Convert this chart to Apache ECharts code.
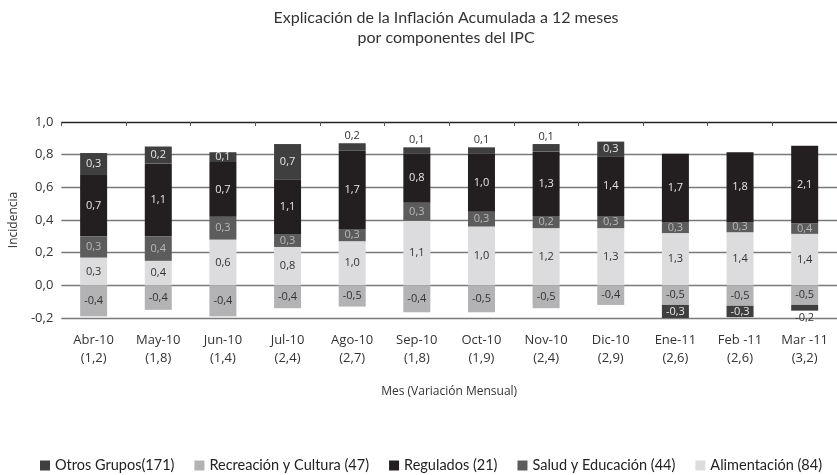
<!DOCTYPE html>
<html>
<head>
<meta charset="utf-8">
<script src="https://cdn.jsdelivr.net/npm/echarts@6/dist/echarts.min.js"></script>
<style>
  html, body { margin: 0; padding: 0; background: #fff; }
  #chart { width: 837px; height: 475px; }
</style>
</head>
<body>
<div id="chart"></div>
<script>
// categorias (mes) y variacion mensual
const months = ['Abr-10', 'May-10', 'Jun-10', 'Jul-10', 'Ago-10', 'Sep-10', 'Oct-10', 'Nov-10', 'Dic-10', 'Ene-11', 'Feb -11', 'Mar -11']
const totals = ['1,2', '1,8', '1,4', '2,4', '2,7', '1,8', '1,9', '2,4', '2,9', '2,6', '2,6', '3,2']

// altura de cada segmento (eje Incidencia)
const alimentacion = [0.17, 0.15, 0.28, 0.235, 0.27, 0.395, 0.36, 0.35, 0.35, 0.32, 0.325, 0.315]
const salud = [0.13, 0.15, 0.14, 0.08, 0.075, 0.11, 0.09, 0.075, 0.075, 0.065, 0.06, 0.065]
const regulados = [0.375, 0.445, 0.335, 0.335, 0.48, 0.30, 0.355, 0.395, 0.365, 0.42, 0.43, 0.475]
const otros = [0.135, 0.105, 0.06, 0.215, 0.045, 0.04, 0.04, 0.045, 0.09, -0.085, -0.07, -0.035]
const recreacion = [-0.19, -0.15, -0.19, -0.14, -0.13, -0.165, -0.165, -0.14, -0.12, -0.12, -0.125, -0.12]

// etiquetas que se muestran en cada segmento
const alimentacionLbl = [0.3, 0.4, 0.6, 0.8, 1.0, 1.1, 1.0, 1.2, 1.3, 1.3, 1.4, 1.4]
const saludLbl = [0.3, 0.4, 0.3, 0.3, 0.3, 0.3, 0.3, 0.2, 0.3, 0.3, 0.3, 0.4]
const reguladosLbl = [0.7, 1.1, 0.7, 1.1, 1.7, 0.8, 1.0, 1.3, 1.4, 1.7, 1.8, 2.1]
const otrosLbl = [0.3, 0.2, 0.1, 0.7, 0.2, 0.1, 0.1, 0.1, 0.3, -0.3, -0.3, -0.2]
const recreacionLbl = [-0.4, -0.4, -0.4, -0.4, -0.5, -0.4, -0.5, -0.5, -0.4, -0.5, -0.5, -0.5]

// posicion de la etiqueta de Otros Grupos
const otrosPos = ['inside', 'inside', 'inside', 'inside', 'top', 'top', 'top', 'top', 'inside', 'inside', 'inside', 'bottom']

const yTicks = [-0.2, 0, 0.2, 0.4, 0.6, 0.8, 1.0]

const fmt = v => v.toFixed(1).replace('.', ',')
const narrow = '"Liberation Sans Narrow", "Open Sans", sans-serif'
const sans = '"Open Sans", "Noto Sans", sans-serif'
const lato = 'Lato, "Open Sans", sans-serif'

const mChart = echarts.init(document.getElementById('chart'))

const mkSeries = (name, values, labels, color, textColor, positions) => ({
  name,
  type: 'bar',
  stack: 'Total',
  barWidth: 27,
  color,
  data: values.map((v, i) => ({
    value: v,
    label: { position: positions ? positions[i] : 'inside', distance: 2 }
  })),
  label: {
    show: true,
    color: textColor,
    fontSize: 11,
    fontFamily: sans,
    formatter: p => fmt(labels[p.dataIndex])
  }
})

const options = {
  animation: false,
  title: {
    text: 'Explicación de la Inflación Acumulada a 12 meses\npor componentes del IPC',
    left: 441,
    textAlign: 'center',
    top: 3,
    textStyle: {
      fontFamily: lato,
      fontWeight: 'normal',
      fontSize: 16,
      lineHeight: 20,
      color: '#333'
    }
  },
  legend: {
    data: ['Otros Grupos(171)', 'Recreación y Cultura (47)', 'Regulados (21)', 'Salud y Educación (44)', 'Alimentación (84)'],
    left: 40,
    top: 458,
    width: 797,
    padding: 0,
    itemWidth: 10,
    itemHeight: 10,
    itemGap: 20,
    icon: 'rect',
    textStyle: { fontFamily: lato, fontSize: 14.5, color: '#222' }
  },
  grid: {
    left: 58,
    right: -8,
    top: 122,
    bottom: 157
  },
  xAxis: [
    {
      type: 'category',
      data: months,
      position: 'bottom',
      axisLine: { show: false },
      axisTick: { show: false },
      axisLabel: {
        margin: 13,
        lineHeight: 18,
        fontSize: 13,
        fontFamily: narrow,
        color: '#333',
        formatter: (v, i) => v + '\n(' + totals[i] + ')'
      },
      name: 'Mes (Variación Mensual)',
      nameLocation: 'middle',
      nameGap: 68,
      nameTextStyle: { fontFamily: sans, fontSize: 12, color: '#333' }
    },
    {
      type: 'category',
      data: months,
      position: 'top',
      axisLine: { show: true, onZero: true, lineStyle: { color: '#222', width: 1 } },
      axisTick: { show: true, inside: true, length: 4, lineStyle: { color: '#555' } },
      axisLabel: { show: false }
    }
  ],
  yAxis: {
    type: 'value',
    min: -0.2,
    max: 1.0,
    interval: 0.2,
    name: 'Incidencia',
    nameLocation: 'middle',
    nameGap: 40,
    nameTextStyle: { fontFamily: sans, fontSize: 12, color: '#333' },
    axisLine: { show: false },
    axisTick: { show: false },
    axisLabel: {
      fontSize: 13,
      fontFamily: sans,
      color: '#333',
      margin: 8,
      formatter: v => fmt(v)
    },
    splitLine: {
      show: true,
      lineStyle: {
        width: 1.3,
        color: yTicks.map(t => (t === 1.0 ? '#333' : '#7a7a7a'))
      }
    }
  },
  series: [
    mkSeries('Alimentación (84)', alimentacion, alimentacionLbl, '#dcdcde', '#333'),
    mkSeries('Salud y Educación (44)', salud, saludLbl, '#5c5c5c', '#b8b8b8'),
    mkSeries('Recreación y Cultura (47)', recreacion, recreacionLbl, '#b3b3b5', '#333'),
    mkSeries('Regulados (21)', regulados, reguladosLbl, '#231f20', '#e6e6e6'),
    mkSeries('Otros Grupos(171)', otros, otrosLbl, '#3f3f3f', '#e6e6e6', otrosPos)
  ]
}

// etiquetas fuera de la barra en texto oscuro
options.series[4].data.forEach((d, i) => {
  if (otrosPos[i] !== 'inside') d.label.color = '#333'
})

mChart.setOption(options)
</script>
</body>
</html>
